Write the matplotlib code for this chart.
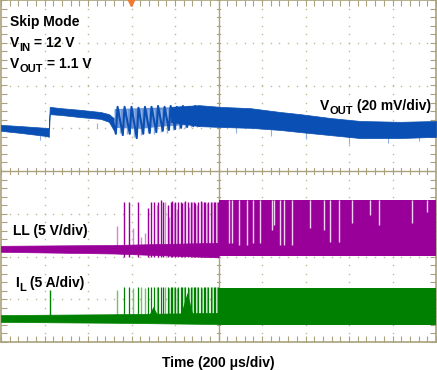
import numpy as np
import matplotlib.pyplot as plt

plt.rcParams['font.family'] = ['Liberation Sans', 'DejaVu Sans']

# screen units: time in divisions (0..10), level in divisions (-4..4)

# VOUT (ch1) noise band before the ringing
vout_t1 = [0, 0.46, 1.03, 1.10, 1.12, 1.38, 1.83, 2.29, 2.48, 2.59]
vout_hi1 = [1.08, 1.05, 1.01, 1.01, 1.50, 1.47, 1.43, 1.38, 1.33, 1.24]
vout_lo1 = [0.94, 0.89, 0.82, 0.80, 1.33, 1.31, 1.26, 1.22, 1.15, 0.96]
# ringing (peaks / troughs)
ring_t = [2.59, 2.64, 2.68, 2.80, 2.84, 2.96, 3.00, 3.12, 3.16, 3.27, 3.31, 3.42,
          3.46, 3.57, 3.61, 3.72, 3.76, 3.86, 3.90, 4.00, 4.04, 4.14, 4.18, 4.28,
          4.32, 4.42, 4.46, 4.55, 4.60]
ring_v = [1.10, 0.87, 1.50, 0.84, 1.50, 0.87, 1.50, 0.77, 1.48, 0.87, 1.50, 0.89,
          1.50, 0.91, 1.52, 0.94, 1.50, 0.96, 1.52, 0.98, 1.50, 1.01, 1.52, 1.03,
          1.50, 1.05, 1.52, 1.06, 1.08]
ring_lite_t = [2.74, 2.90, 3.06, 3.22, 3.37, 3.52, 3.67, 3.81, 3.95, 4.09, 4.23, 4.37, 4.51]
ring_lite_lo = [0.90, 0.86, 0.80, 0.84, 0.88, 0.86, 0.92, 0.90, 0.96, 0.98, 1.00, 1.02, 1.04]
ring_glow_t = [2.60, 3.20, 3.80, 4.60]
ring_glow_hi = [1.46, 1.48, 1.50, 1.52]
ring_glow_lo = [1.02, 1.00, 1.06, 1.10]
# band after the ringing
vout_t2 = [3.90, 4.55, 5.05, 5.73, 6.42, 6.88, 7.57, 8.26, 9.17, 10]
vout_hi2 = [1.50, 1.54, 1.50, 1.47, 1.38, 1.33, 1.24, 1.17, 1.15, 1.17]
vout_lo2 = [1.15, 1.05, 1.03, 1.01, 0.96, 0.91, 0.84, 0.77, 0.77, 0.80]
vout_spk_t = [0.9, 2.2, 5.4, 6.2, 7.0, 8.0, 8.9, 9.6]
vout_spk_lo = [0.72, 1.12, 0.88, 0.82, 0.76, 0.64, 0.66, 0.70]

# LL (ch2)
ll_base_t = [0, 2.6, 5.0]
ll_base_hi = [-1.75, -1.73, -1.68]
ll_base_lo = [-1.89, -1.93, -2.02]
ll_spk_t = [2.82, 2.94, 3.14, 3.37, 3.44, 3.51, 3.62, 3.67, 3.72, 3.83, 3.90, 3.94,
            4.01, 4.08, 4.13, 4.17, 4.24, 4.29, 4.36, 4.43, 4.47, 4.54, 4.59, 4.66,
            4.70, 4.77, 4.82, 4.89, 4.93, 4.98]
ll_spk_hi = [-0.73, -0.73, -0.73, -0.87, -0.73, -0.73, -0.73, -0.68, -0.73, -0.80,
             -0.73, -0.70, -0.73, -0.73, -0.73, -0.75, -0.70, -0.73, -0.73, -0.73,
             -0.75, -0.73, -0.70, -0.73, -0.73, -0.73, -0.73, -0.73, -0.73, -0.73]
ll_lite_t = [2.66, 3.03, 3.21, 3.30, 3.58, 3.78, 3.87, 3.98, 4.05, 4.20, 4.32,
             4.40, 4.50, 4.62, 4.74, 4.86, 4.96]
ll_lite_hi = [-1.29, -1.33, -1.54, -1.45, -0.80, -0.73, -1.08, -0.75, -0.90, -0.73,
              -0.85, -0.73, -0.80, -0.73, -0.75, -0.73, -0.73]
ll_band_t = [5.0, 10]
ll_band_hi = [-0.68, -0.68]
ll_band_lo = [-1.99, -1.99]
ll_gap_t = [5.24, 5.30, 5.47, 5.66, 5.79, 5.95, 6.23, 6.28, 6.41, 6.50, 6.69, 7.11,
            7.42, 7.57, 7.76, 8.07, 8.49, 8.68, 9.44, 9.79]
ll_gap_lo = [-1.68, -1.68, -1.73, -1.73, -1.68, -1.68, -1.38, -1.26, -1.73, -1.73,
             -1.73, -1.33, -1.38, -1.66, -1.66, -1.22, -1.03, -1.26, -1.22, -0.96]

# IL (ch3)
il_base_t = [0, 2.6, 5.0]
il_base_hi = [-3.37, -3.35, -3.32]
il_base_lo = [-3.53, -3.55, -3.58]
il_first_t = 1.12
il_first_hi = -2.78
il_spk_hi = [-2.71] * len(ll_spk_t)
il_lite_hi = [-2.78, -2.74, -2.71, -2.74, -2.71, -2.71, -2.74, -2.71, -2.74, -2.71,
              -2.74, -2.71, -2.71, -2.74, -2.71, -2.71, -2.71]
il_burst_t = [[3.40, 3.51, 3.62], [4.13, 4.29, 4.43]]
il_burst_v = [[-3.40, -3.18, -3.40], [-3.40, -2.85, -3.40]]
il_band_t = [5.0, 10]
il_band_hi = [-2.74, -2.74]
il_band_lo = [-3.60, -3.60]

blue, blue_l, blue_m = '#0a4fb4', '#8fb2e6', '#2d66c4'
purple, purple_l = '#990099', '#d684d6'
green, green_l = '#008000', '#6cc46c'
grid_c = '#aaa27c'

fig = plt.figure(figsize=(4.37, 3.70), dpi=100)
ax = fig.add_axes([1 / 437, 28 / 370, 435 / 437, 342 / 370])
ax.set_xlim(0, 10)
ax.set_ylim(-4, 4)

# graticule
dots = np.arange(0, 10.01, 0.2)
ydots = np.arange(-4, 4.01, 0.2)
for i in range(1, 10):
    if i != 5:
        ax.plot([i] * len(ydots), ydots, ls='none', marker='s', ms=1.0, mew=0, color='#bdb796', zorder=1)
for j in range(-3, 4):
    if j != 0:
        ax.plot(dots, [j] * len(dots), ls='none', marker='s', ms=1.0, mew=0, color='#bdb796', zorder=1)
ax.axvline(5, color=grid_c, lw=1, zorder=1)
ax.axhline(0, color=grid_c, lw=1, zorder=1)
for x in dots:
    ax.plot([x, x], [-0.08, 0.08], color=grid_c, lw=0.8, zorder=1)
for y in ydots:
    ax.plot([4.96, 5.04], [y, y], color=grid_c, lw=0.8, zorder=1)
for s in ax.spines.values():
    s.set_color(grid_c)
    s.set_linewidth(1.2)
ax.set_xticks(dots)
ax.set_yticks(ydots)
ax.tick_params(direction='in', length=4, color=grid_c, top=True, right=True,
               labelleft=False, labelbottom=False, width=0.8)

# VOUT
ax.fill_between(vout_t1, vout_hi1, vout_lo1, color=blue, lw=0.5, zorder=3)
ax.fill_between(ring_glow_t, ring_glow_hi, ring_glow_lo, color=blue_m, alpha=0.7, lw=0, zorder=2)
ax.vlines(ring_lite_t, ring_lite_lo, 1.45, color=blue_l, lw=1.0, zorder=2)
ax.plot(ring_t, ring_v, color=blue, lw=1.5, zorder=3)
ax.fill_between(vout_t2, vout_hi2, vout_lo2, color=blue, lw=0.5, zorder=3)
ax.vlines(vout_spk_t, vout_spk_lo, 1.0, color=blue_l, lw=0.8, zorder=2)

# LL
ax.fill_between(ll_base_t, ll_base_hi, ll_base_lo, color=purple, lw=0.5, zorder=3)
ax.vlines(ll_lite_t, ll_lite_hi, -1.8, color=purple_l, lw=1.0, zorder=2)
ax.vlines(ll_spk_t, ll_spk_hi, -2.02, color=purple, lw=1.0, zorder=3)
ax.fill_between(ll_band_t, ll_band_hi, ll_band_lo, color=purple, lw=0, zorder=3)
ax.vlines(ll_gap_t, -0.69, ll_gap_lo, color='#f2d2f2', lw=1.0, zorder=4)

# IL
ax.fill_between(il_base_t, il_base_hi, il_base_lo, color=green, lw=0.5, zorder=3)
ax.vlines([il_first_t], il_first_hi, -3.4, color=green, lw=1.0, zorder=3)
ax.vlines(ll_lite_t, il_lite_hi, -3.4, color=green_l, lw=1.0, zorder=2)
ax.vlines(ll_spk_t, il_spk_hi, -3.4, color=green, lw=0.9, zorder=3)
for bt, bv in zip(il_burst_t, il_burst_v):
    ax.fill(bt, bv, color=green, lw=0, zorder=3)
ax.fill_between(il_band_t, il_band_hi, il_band_lo, color=green, lw=0, zorder=3)

# trigger marker
ax.plot([2.98], [4.0], marker='v', ms=9, color='#f07a30', clip_on=True, zorder=5)

# labels, pieces are (text, size, drop in px)
renderer = fig.canvas.get_renderer()

def ftxt(x, y, pieces, center=False):
    arts = []
    for s, size, dy in pieces:
        arts.append(fig.text(0, 1 - (y + dy) / 370, s, fontsize=size, fontweight='bold',
                             va='baseline'))
    widths = [a.get_window_extent(renderer).width for a in arts]
    x0 = x - sum(widths) / 2 if center else x
    for a, w in zip(arts, widths):
        a.set_x(x0 / 437)
        x0 += w

ftxt(10, 26, [('Skip Mode', 10, 0)])
ftxt(10, 47, [('V', 10, 0), ('IN', 8, 4), (' = 12 V', 10, 0)])
ftxt(10, 68, [('V', 10, 0), ('OUT', 8, 4), (' = 1.1 V', 10, 0)])
ftxt(320, 110, [('V', 10, 0), ('OUT', 8, 4), (' (20 mV/div)', 10, 0)])
ftxt(13, 235, [('LL (5 V/div)', 10, 0)])
ftxt(15, 287, [('I', 10, 0), ('L', 8, 4), (' (5 A/div)', 10, 0)])
ftxt(218, 367, [('Time (200 μs/div)', 10, 0)], center=True)

fig.savefig('out.png', dpi=100)
